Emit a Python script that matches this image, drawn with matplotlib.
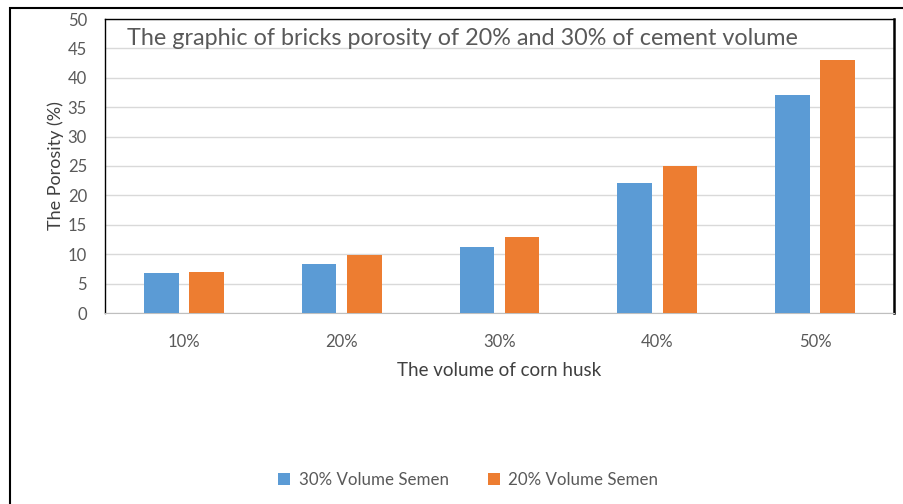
import matplotlib.pyplot as plt
import numpy as np
from matplotlib.patches import Rectangle

categories = ['10%', '20%', '30%', '40%', '50%']
semen_30 = [6.8, 8.3, 11.2, 22.1, 37.1]
semen_20 = [7.0, 9.9, 13.0, 25.0, 43.0]

plt.rcParams['font.family'] = ['Lato', 'DejaVu Sans']
grey = '#595959'

fig = plt.figure(figsize=(9.04, 5.04), dpi=100)
ax = fig.add_axes([105 / 904, 1 - 313 / 504, 789 / 904, 294 / 504])

x = np.arange(len(categories))
w = 0.22
ax.bar(x - 0.143, semen_30, w, color='#5B9BD5', label='30% Volume Semen', zorder=3)
ax.bar(x + 0.143, semen_20, w, color='#ED7D31', label='20% Volume Semen', zorder=3)

ax.set_xlim(-0.5, 4.5)
ax.set_ylim(0, 50)
ax.set_yticks(range(0, 51, 5))
ax.set_xticks(x)
ax.set_xticklabels(categories)
ax.tick_params(length=0, colors=grey, labelsize=12)
ax.tick_params(axis='y', pad=13)
ax.tick_params(axis='x', pad=15)
ax.yaxis.grid(True, color='#D9D9D9', linewidth=1, zorder=0)

for s in ['left', 'top', 'right']:
    ax.spines[s].set_color('black')
    ax.spines[s].set_linewidth(1)
ax.spines['right'].set_linewidth(1.8)
ax.spines['bottom'].set_color('#BFBFBF')

ax.set_xlabel('The volume of corn husk', fontsize=13.5, color='#404040', labelpad=9)
ax.set_ylabel('The Porosity (%)', fontsize=13, color='#404040', labelpad=3)

ax.text(0.028, 0.933, 'The graphic of bricks porosity of 20% and 30% of cement volume',
        transform=ax.transAxes, fontsize=16.8, color=grey, va='center', ha='left')

fig.legend(loc='center', bbox_to_anchor=(0.518, 1 - 480 / 504), ncol=2, frameon=False,
           fontsize=12.2, labelcolor=grey, handlelength=0.7, handleheight=0.7,
           columnspacing=2.3, handletextpad=0.5)

# outer chart frame
fig.add_artist(Rectangle((9.5 / 904, -0.1), 1.2, 1.1 - 8.5 / 504, transform=fig.transFigure,
                         fill=False, edgecolor='black', linewidth=1.5))

fig.savefig('out.png', dpi=100)
